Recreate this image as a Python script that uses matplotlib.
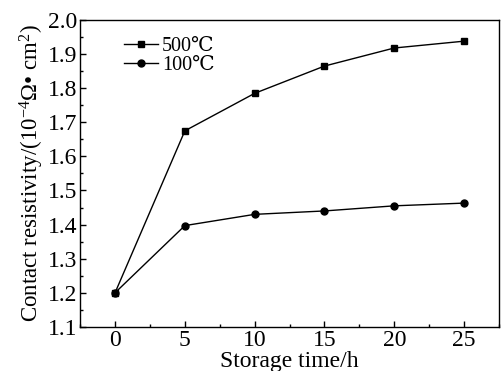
import numpy as np
import matplotlib
matplotlib.use("Agg")
import matplotlib.pyplot as plt
from matplotlib.ticker import MultipleLocator

plt.rcParams['font.family'] = ['Liberation Serif', 'DejaVu Serif', 'Noto Sans CJK SC']
plt.rcParams['mathtext.fontset'] = 'custom'
plt.rcParams['mathtext.rm'] = 'Liberation Serif'
plt.rcParams['mathtext.it'] = 'Liberation Serif:italic'

# storage time (h) and contact resistivity (1e-4 ohm cm^2)
time_h = [0, 5, 10, 15, 20, 25]
rho_500 = [1.200, 1.675, 1.785, 1.865, 1.918, 1.938]
rho_100 = [1.200, 1.397, 1.430, 1.440, 1.455, 1.463]

fig = plt.figure(figsize=(5.01, 3.71), dpi=100)
ax = fig.add_axes([0.160, 0.119, 0.836, 0.827])

ax.plot(time_h, rho_500, color='black', lw=1.0, marker='s', ms=4.5, label='500℃')
ax.plot(time_h, rho_100, color='black', lw=1.0, marker='o', ms=5, label='100℃')

ax.set_xlim(-2.5, 27.5)
ax.set_ylim(1.1, 2.0)
ax.xaxis.set_major_locator(MultipleLocator(5))
ax.xaxis.set_minor_locator(MultipleLocator(2.5))
ax.yaxis.set_major_locator(MultipleLocator(0.1))
ax.yaxis.set_minor_locator(MultipleLocator(0.05))
ax.yaxis.set_major_formatter(matplotlib.ticker.FormatStrFormatter('%.1f'))
ax.tick_params(which='both', direction='in', top=False, right=False, labelsize=17)
ax.tick_params(which='major', length=4, width=1, pad=2)
ax.tick_params(which='minor', length=2.5, width=1)
for s in ax.spines.values():
    s.set_linewidth(1.0)

ax.set_xlabel('Storage time/h', fontsize=17, labelpad=0)
ax.set_ylabel('Contact resistivity/(10$^{-4}$Ω• cm$^2$)', fontsize=16.5, labelpad=1)

ax.legend(loc='upper left', bbox_to_anchor=(0.07, 0.99), frameon=False, fontsize=14.5,
          handlelength=1.7, handletextpad=0.2, labelspacing=0.0, borderpad=0.2)

fig.savefig('out.png', dpi=100)
